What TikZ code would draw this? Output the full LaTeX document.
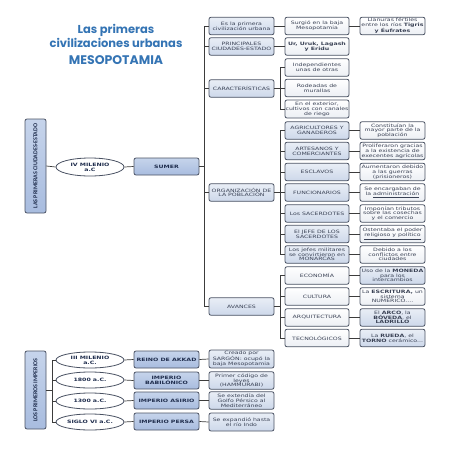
\documentclass[tikz,border=0pt]{standalone}
\usepackage{fontspec}
\usetikzlibrary{shapes.geometric}
\newfontfamily\bxfont[FakeStretch=1.38]{DejaVu Sans}
\newfontfamily\titfont{Poppins}
\newfontfamily\vfont{Carlito}
\definecolor{linec}{HTML}{3C3C3C}
\definecolor{bordc}{HTML}{4A5263}
\definecolor{txtc}{HTML}{3A4255}
\definecolor{darktxt}{HTML}{1F2D4D}
\definecolor{titc}{HTML}{3474B4}
\definecolor{bTop}{HTML}{E9EEF6}
\definecolor{bBot}{HTML}{CDD8EA}
\definecolor{wTop}{HTML}{FFFFFF}
\definecolor{wBot}{HTML}{ECEFF4}
\definecolor{dTop}{HTML}{C6D4EB}
\definecolor{dBot}{HTML}{A8BCDF}
\tikzset{
  lnk/.style={draw=linec, line width=0.7pt},
  box/.style={draw=bordc, line width=0.8pt, rounded corners=2pt, minimum width=65pt,
    minimum height=17.5pt, inner sep=0pt, align=center, text=txtc,
    font=\bxfont\fontsize{4.5}{4.8}\selectfont},
  bbox/.style={box, top color=bTop, bottom color=bBot},
  wbox/.style={box, top color=wTop, bottom color=wBot},
  dbox/.style={box, top color=dTop, bottom color=dBot, text=darktxt,
    font=\bxfont\bfseries\fontsize{4.5}{4.8}\selectfont},
  ebox/.style={draw=bordc, line width=0.8pt, ellipse, fill=white, minimum width=68pt,
    minimum height=17pt, inner sep=0pt, align=center, text=darktxt,
    font=\bxfont\bfseries\fontsize{4.5}{4.8}\selectfont},
  vbox/.style={draw=bordc, line width=0.8pt, rounded corners=2pt, top color=dTop,
    bottom color=dBot, minimum width=21pt, inner sep=0pt, text=darktxt,
    font=\vfont\bfseries\fontsize{6.0}{7}\selectfont}
}
\begin{document}
\begin{tikzpicture}[x=1pt,y=-1pt]
\useasboundingbox (0,0) rectangle (453,453);
% title
\node[font=\titfont\bfseries\fontsize{11.5}{14}\selectfont, text=titc, align=center] (title) at (116,36) {Las primeras\\civilizaciones urbanas};
\node[font=\titfont\bfseries\fontsize{12.5}{15}\selectfont, text=titc] (meso) at (116,60.5) {MESOPOTAMIA};

% upper left
\node[vbox, minimum height=94pt] (pce) at (35.5,166) {\rotatebox{90}{LAS PRIMERAS CIUDADES-ESTADO}};
\node[ebox, minimum height=18pt] (e0) at (90,167) {IV MILENIO\\a.C};
\node[dbox, minimum height=17pt] (sumer) at (166.5,166.5) {SUMER};
\coordinate (trunk) at (204,166.5);

% column 2
\node[bbox] (n1) at (241.5,26) {Es la primera\\civilización urbana};
\node[bbox] (n2) at (241.5,46.5) {PRINCIPALES\\CIUDADES-ESTADO};
\node[bbox] (car) at (241.5,88.5) {CARACTERÍSTICAS};
\node[bbox] (org) at (241.5,192.5) {ORGANIZACIÓN DE\\LA POBLACIÓN};
\node[bbox] (av) at (241.5,306.5) {AVANCES};

% row 1-2
\node[wbox, minimum width=64pt] (n1b) at (317,26) {Surgió en la baja\\Mesopotamia};
\node[wbox] (n1c) at (392.5,26) {Llanuras fértiles\\entre los ríos \textbf{Tigris}\\\textbf{y Éufrates}};
\node[wbox, minimum width=64pt] (n2b) at (317,46.5) {\textbf{Ur, Uruk, Lagash}\\\textbf{y Eridu}};

% caracteristicas
\node[wbox, minimum width=64pt] (c1) at (317,67.5) {Independientes\\unas de otras};
\node[wbox, minimum width=64pt] (c2) at (317,88) {Rodeadas de\\murallas};
\node[wbox, minimum width=64pt, minimum height=18pt] (c3) at (317,109) {En el exterior,\\cultivos con canales\\de riego};

% organizacion
\node[bbox, minimum width=64pt] (o1) at (317,130.5) {AGRICULTORES Y\\GANADEROS};
\node[bbox, minimum width=64pt] (o2) at (317,151) {ARTESANOS Y\\COMERCIANTES};
\node[bbox, minimum width=64pt] (o3) at (317,172) {ESCLAVOS};
\node[bbox, minimum width=64pt] (o4) at (317,192.5) {FUNCIONARIOS};
\node[bbox, minimum width=64pt] (o5) at (317,213.5) {Los SACERDOTES};
\node[bbox, minimum width=64pt] (o6) at (317,234) {El JEFE DE LOS\\SACERDOTES};
\node[bbox, minimum width=64pt] (o7) at (317,254.5) {Los jefes militares\\se convirtieron en\\MONARCAS};

\node[wbox] (p1) at (392.5,130.5) {Constituían la\\mayor parte de la\\población};
\node[wbox] (p2) at (392.5,151) {Proliferaron gracias\\a la existencia de\\execentes agrícolas};
\node[wbox] (p3) at (392.5,172) {Aumentaron debido\\a las guerras\\(prisioneros)};
\node[wbox] (p4) at (392.5,192.5) {Se encargaban de\\la \underline{administración}};
\node[wbox] (p5) at (392.5,213.5) {Imponían tributos\\sobre las cosechas\\y el comercio};
\node[wbox] (p6) at (392.5,234) {Ostentaba el poder\\\underline{religioso y político}};
\node[wbox] (p7) at (392.5,254.5) {Debido a los\\conflictos entre\\ciudades};

% avances
\node[wbox, minimum width=64pt] (a1) at (317,275.5) {ECONOMÍA};
\node[wbox, minimum width=64pt] (a2) at (317,296.5) {CULTURA};
\node[wbox, minimum width=64pt] (a3) at (317,317.5) {ARQUITECTURA};
\node[wbox, minimum width=64pt] (a4) at (317,338) {TECNOLÓGICOS};

\node[bbox] (q1) at (392.5,275.5) {Uso de la \textbf{MONEDA}\\para los\\intercambios};
\node[wbox] (q2) at (392.5,296.5) {La \textbf{ESCRITURA,} un\\sistema\\NUMÉRICO....};
\node[bbox] (q3) at (392.5,317.5) {El \textbf{ARCO}, la\\\textbf{BÓVEDA}, el\\\textbf{LADRILLO}};
\node[bbox] (q4) at (392.5,338) {La \textbf{RUEDA}, el\\\textbf{TORNO} cerámico...};

% lower part
\node[vbox, minimum height=78pt] (lpi) at (35.5,390) {\rotatebox{90}{LOS PRIMEROS IMPERIOS}};
\node[ebox, minimum height=16pt] (f1) at (90,360) {III MILENIO\\a.C.};
\node[ebox, minimum height=16pt] (f2) at (90,380) {1800 a.C.};
\node[ebox, minimum height=16pt] (f3) at (90,401) {1300 a.C.};
\node[ebox, minimum height=16pt] (f4) at (90,422) {SIGLO VI a.C.};

\node[dbox, minimum height=17pt] (k1) at (166.5,359.5) {REINO DE AKKAD};
\node[dbox, minimum height=17pt] (k2) at (166.5,380.5) {IMPERIO\\BABILÓNICO};
\node[dbox, minimum height=17pt] (k3) at (166.5,400.5) {IMPERIO ASIRIO};
\node[dbox, minimum height=17pt] (k4) at (166.5,421.5) {IMPERIO PERSA};

\node[bbox, minimum height=18pt] (d1) at (241.5,359) {Creado por\\SARGÓN: ocupó la\\baja Mesopotamia};
\node[bbox] (d2) at (241.5,380.5) {Primer código de\\leyes\\(HAMMURABI)};
\node[bbox] (d3) at (241.5,400.5) {Se extendía del\\Golfo Pérsico al\\Mediterráneo};
\node[bbox, minimum height=18pt] (d4) at (241.5,422) {Se expandió hasta\\el río Indo};

% connectors
\draw[lnk] (pce.east) -- (e0.west);
\draw[lnk] (e0.east) -- (sumer.west);
\draw[lnk] (sumer.east) -- (trunk);
\foreach \t in {n1,n2,car,org,av} \draw[lnk] (trunk) |- (\t.west);
\draw[lnk] (n1.east) -- (n1b.west);
\draw[lnk] (n1b.east) -- (n1c.west);
\draw[lnk] (n2.east) -- (n2b.west);
\foreach \t in {c1,c2,c3} \draw[lnk] (car.east) -- ++(5.5,0) |- (\t.west);
\foreach \t in {o1,o2,o3,o4,o5,o6,o7} \draw[lnk] (org.east) -- ++(5.5,0) |- (\t.west);
\foreach \a/\b in {o1/p1,o2/p2,o3/p3,o4/p4,o5/p5,o6/p6,o7/p7} \draw[lnk] (\a.east) -- (\b.west);
\foreach \t in {a1,a2,a3,a4} \draw[lnk] (av.east) -- ++(5.5,0) |- (\t.west);
\foreach \a/\b in {a1/q1,a2/q2,a3/q3,a4/q4} \draw[lnk] (\a.east) -- (\b.west);
\foreach \t in {f1,f2,f3,f4} \draw[lnk] (lpi.east) -- ++(6,0) |- (\t.west);
\foreach \a/\b in {f1/k1,f2/k2,f3/k3,f4/k4} \draw[lnk] (\a.east) -- (\b.west);
\foreach \a/\b in {k1/d1,k2/d2,k3/d3,k4/d4} \draw[lnk] (\a.east) -- (\b.west);
\end{tikzpicture}
\end{document}
